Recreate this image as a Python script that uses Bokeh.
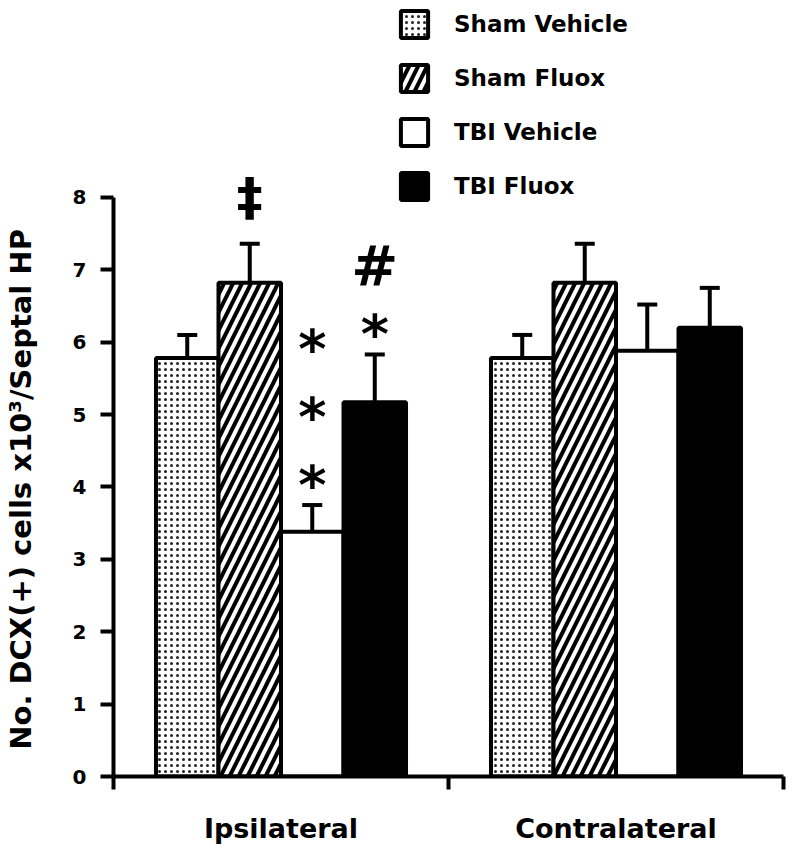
from bokeh.plotting import figure
from bokeh.models import (Range1d, FixedTicker, ColumnDataSource, Whisker, TeeHead,
                          Legend, LegendItem)
from bokeh.core.properties import value
from bokeh.embed import file_html
from bokeh.resources import INLINE

# ---------------- data ----------------
categories = ["Ipsilateral", "Contralateral"]
groups = ["Sham Vehicle", "Sham Fluox", "TBI Vehicle", "TBI Fluox"]

sham_vehicle = [5.78, 5.78]
sham_fluox = [6.82, 6.82]
tbi_vehicle = [3.38, 5.88]
tbi_fluox = [5.17, 6.20]

sham_vehicle_err = [0.32, 0.32]
sham_fluox_err = [0.54, 0.54]
tbi_vehicle_err = [0.37, 0.64]
tbi_fluox_err = [0.66, 0.55]

y_ticks = [0, 1, 2, 3, 4, 5, 6, 7, 8]

annot_cat = ["Ipsilateral"] * 6
annot_group = ["Sham Fluox", "TBI Vehicle", "TBI Vehicle", "TBI Vehicle", "TBI Fluox", "TBI Fluox"]
annot_y = [8.0, 5.99, 5.06, 4.12, 6.20, 7.06]
annot_text = ["\u2021", "*", "*", "*", "*", "#"]

y_label = "No. DCX(+) cells x10\u00b3/Septal HP"

means = [sham_vehicle, sham_fluox, tbi_vehicle, tbi_fluox]
errs = [sham_vehicle_err, sham_fluox_err, tbi_vehicle_err, tbi_fluox_err]

# ---------------- styles ----------------
BAR_W = 0.1866
FONT = "DejaVu Sans"
styles = [
    dict(fill_color="white", hatch_pattern="dot", hatch_scale=6, hatch_weight=2.2, hatch_color="#222222"),
    dict(fill_color="white", hatch_pattern="/", hatch_scale=18, hatch_weight=4, hatch_color="black"),
    dict(fill_color="white"),
    dict(fill_color="black"),
]

def xpos(cat, grp):
    return categories.index(cat) + 0.5 + (groups.index(grp) - 1.5) * BAR_W

p = figure(width=790, height=847, output_backend="svg", toolbar_location=None,
           x_range=Range1d(0, 2), y_range=Range1d(0, 10.72),
           min_border_left=113, min_border_right=7, min_border_top=0, min_border_bottom=71)
p.outline_line_color = None
p.grid.visible = False
p.background_fill_color = "white"

renderers = []
for j, g in enumerate(groups):
    xs = [xpos(c, g) for c in categories]
    src = ColumnDataSource(dict(x=xs, top=means[j],
                                upper=[m + e for m, e in zip(means[j], errs[j])]))
    r = p.vbar(x="x", top="top", bottom=0, width=BAR_W, source=src,
               line_color="black", line_width=4, **styles[j])
    renderers.append(r)
    w = Whisker(base="x", upper="upper", lower="top", source=src, line_width=4,
                line_color="black", lower_head=None,
                upper_head=TeeHead(size=20, line_width=4, line_color="black"),
                level="overlay")
    p.add_layout(w)

# significance marks
ax = [xpos(c, g) for c, g in zip(annot_cat, annot_group)]
sym_style = {"\u2021": (52, 0), "*": (54, 7), "#": (56, 0)}
for sym, (size, yoff) in sym_style.items():
    idx = [i for i, t in enumerate(annot_text) if t == sym]
    s = ColumnDataSource(dict(x=[ax[i] for i in idx], y=[annot_y[i] for i in idx],
                              t=[annot_text[i] for i in idx]))
    p.text(x="x", y="y", text="t", source=s, text_font=value(FONT), text_font_style="bold",
           text_font_size=value(f"{size}px"), text_align="center", text_baseline="middle",
           y_offset=yoff, text_color="black")

# axes
xa = p.xaxis[0]
xa.ticker = FixedTicker(ticks=[0.5, 1.5], minor_ticks=[0, 1, 2])
xa.major_label_overrides = {0.5: categories[0], 1.5: categories[1]}
xa.axis_line_width = 4
xa.axis_line_color = "black"
xa.major_tick_out = 0
xa.major_tick_in = 0
xa.minor_tick_out = 13
xa.minor_tick_in = 0
xa.minor_tick_line_width = 4
xa.minor_tick_line_color = "black"
xa.major_label_standoff = 23
xa.major_label_text_font = FONT
xa.major_label_text_font_style = "bold"
xa.major_label_text_font_size = "27px"
xa.major_label_text_color = "black"

ya = p.yaxis[0]
ya.ticker = FixedTicker(ticks=y_ticks, minor_ticks=[])
ya.bounds = (0, 8)
ya.axis_line_width = 4
ya.axis_line_color = "black"
ya.major_tick_out = 13
ya.major_tick_in = 0
ya.major_tick_line_width = 4
ya.major_tick_line_color = "black"
ya.minor_tick_out = 0
ya.minor_tick_in = 0
ya.major_label_standoff = 14
ya.major_label_text_font = FONT
ya.major_label_text_font_style = "bold"
ya.major_label_text_font_size = "20px"
ya.major_label_text_color = "black"
# trailing no-break spaces shift the (frame-centred) label down to sit beside the 0-8 axis
ya.axis_label = y_label + "\u00a0" * 20
ya.axis_label_text_font = FONT
ya.axis_label_text_font_style = "bold"
ya.axis_label_text_font_size = "29px"
ya.axis_label_text_color = "black"
ya.axis_label_standoff = 32

legend = Legend(items=[LegendItem(label=g, renderers=[r]) for g, r in zip(groups, renderers)],
                location=(284, 573), orientation="vertical",
                glyph_width=34, glyph_height=34, spacing=20, label_standoff=23,
                label_height=34, padding=0, margin=0,
                border_line_alpha=0, background_fill_alpha=0,
                label_text_font=FONT, label_text_font_style="bold",
                label_text_font_size="23px", label_text_color="black")
p.add_layout(legend)

open("out.html", "w").write(file_html(p, INLINE))
